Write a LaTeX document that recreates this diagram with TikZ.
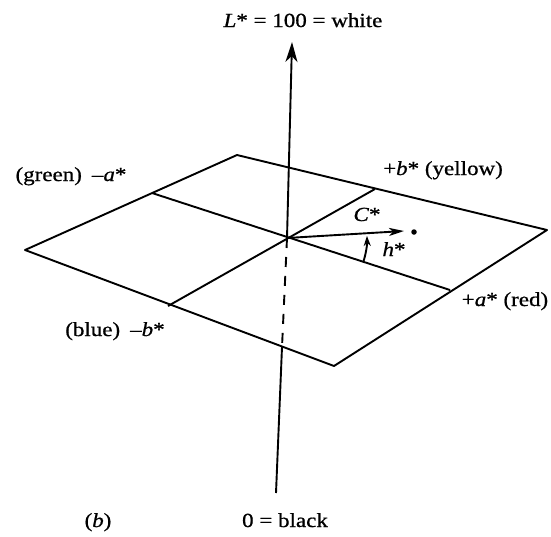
\documentclass[tikz,border=0pt]{standalone}
\usepackage{fontspec}
\setmainfont{Liberation Serif}[FakeStretch=1.15,FakeBold=0.8]
\usetikzlibrary{arrows.meta}
\begin{document}
\begin{tikzpicture}[x=1pt,y=-1pt,line width=1.9pt,
  lbl/.style={font=\fontsize{20}{23}\selectfont,inner sep=0pt,anchor=base},
  bigtip/.style={-{Stealth[length=20pt,width=12pt,inset=6pt]}},
  smalltip/.style={-{Stealth[length=15pt,width=8pt,inset=4pt]}},
  arctip/.style={-{Stealth[length=10pt,width=7pt,inset=3pt]}}]
\useasboundingbox (0,0) rectangle (551,536);
% plane corners
\coordinate (T) at (237,155);
\coordinate (R) at (547,230);
\coordinate (B) at (334,366);
\coordinate (L) at (25,250);
% axes
\coordinate (O) at (287,238);
\coordinate (am) at (152,193);
\coordinate (ap) at (450,290);
\coordinate (bm) at (168,306);
\coordinate (bp) at (375,189);
\coordinate (top) at (292,42);
\coordinate (bot) at (276,493);
\coordinate (X) at (282,347);
\coordinate (Cp) at (404,231);
\node[circle,fill,inner sep=0pt,minimum size=5.5pt] (pt) at (414,232) {};
% plane
\draw[line join=round] (T) -- (R) -- (B) -- (L) -- cycle;
\draw (am) -- (ap);
\draw (bm) -- (bp);
% vertical axis
\draw (bot) -- (X);
\draw[dash pattern=on 10pt off 9pt] (O) -- (X);
\draw[bigtip] (O) -- (top);
% chroma and hue
\draw[smalltip] (O) -- (Cp);
\draw[arctip] ([shift={(17.7:80)}]O) arc (17.7:-1.5:80);
% labels
\node[lbl] (lw) at (303,27) {\textit{L}* = 100 = white};
\node[lbl] (lg) at (71,181) {(green)\enspace\textendash\textit{a}*};
\node[lbl] (ly) at (443,175) {+\textit{b}* (yellow)};
\node[lbl] (lr) at (505,306) {+\textit{a}* (red)};
\node[lbl] (lb) at (115,336) {(blue)\enspace\textendash\textit{b}*};
\node[lbl] (lc) at (367,221) {\textit{C}*};
\node[lbl] (lh) at (394,256) {\textit{h}*};
\node[lbl] (lbb) at (98,527) {(\textit{b})};
\node[lbl] (lk) at (285,527) {0 = black};
\end{tikzpicture}
\end{document}
